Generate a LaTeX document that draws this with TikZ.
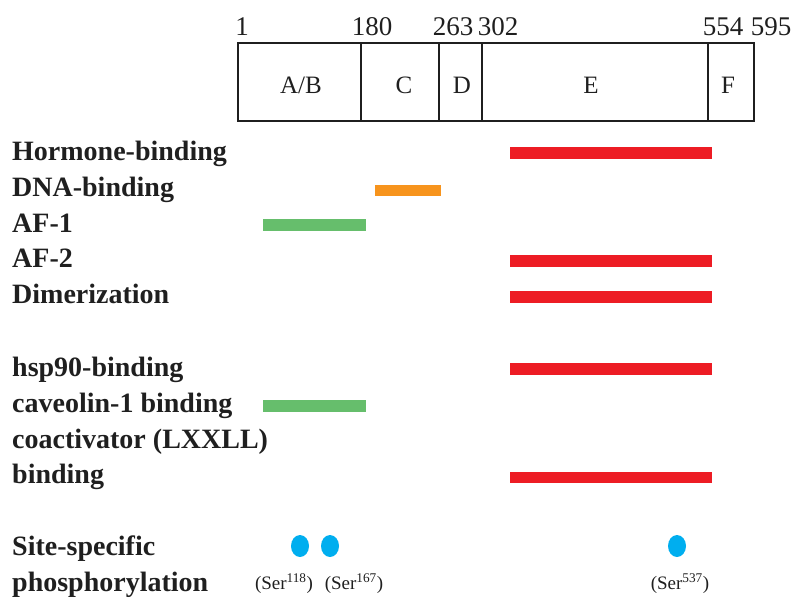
\documentclass[tikz,border=0pt]{standalone}
\usepackage{fontspec}
\usetikzlibrary{shapes.geometric}
\setmainfont{Liberation Serif}
\definecolor{barred}{RGB}{237,28,36}
\definecolor{barorange}{RGB}{247,148,29}
\definecolor{bargreen}{RGB}{102,190,108}
\definecolor{dotblue}{RGB}{0,174,239}
\begin{document}
\begin{tikzpicture}[x=1pt,y=-1pt,
  lbl/.style={anchor=base west,inner sep=0pt,font=\fontsize{28}{30}\selectfont\bfseries,text=black!88},
  num/.style={anchor=base,inner sep=0pt,font=\fontsize{27}{30}\selectfont,text=black!88},
  dom/.style={inner sep=0pt,font=\fontsize{25}{28}\selectfont,text=black!88},
  ser/.style={anchor=base,inner sep=0pt,font=\fontsize{19}{21}\selectfont,text=black!88},
  bar/.style={line width=11.5pt},
  box/.style={draw=black!88,line width=2.8pt},
  dot/.style={fill=dotblue,draw=none,ellipse,minimum width=18pt,minimum height=22pt,inner sep=0pt}]
\useasboundingbox (0,0) rectangle (800,606);
% domain box
\draw[box] (238,43) rectangle (754,121);
\draw[box] (361,43) -- (361,121);
\draw[box] (439,43) -- (439,121);
\draw[box] (482,43) -- (482,121);
\draw[box] (708,43) -- (708,121);
\node[num] (n1) at (242,35) {1};
\node[num] (n180) at (372,35) {180};
\node[num] (n263) at (453,35) {263};
\node[num] (n302) at (498,35) {302};
\node[num] (n554) at (723,35) {554};
\node[num] (n595) at (771,35) {595};
\node[dom,anchor=base] (ab) at (301,93) {A/B};
\node[dom,anchor=base] (c) at (404,93) {C};
\node[dom,anchor=base] (d) at (462,93) {D};
\node[dom,anchor=base] (e) at (591,93) {E};
\node[dom,anchor=base] (f) at (728,93) {F};
% labels
\node[lbl] (l1) at (12,160) {Hormone-binding};
\node[lbl] (l2) at (12,196) {DNA-binding};
\node[lbl] (l3) at (12,232) {AF-1};
\node[lbl] (l4) at (12,267) {AF-2};
\node[lbl] (l5) at (12,303) {Dimerization};
\node[lbl] (l6) at (12,376) {hsp90-binding};
\node[lbl] (l7) at (12,412) {caveolin-1 binding};
\node[lbl] (l8) at (12,448) {coactivator (LXXLL)};
\node[lbl] (l9) at (12,483) {binding};
\node[lbl] (l10) at (12,555) {Site-specific};
\node[lbl] (l11) at (12,591) {phosphorylation};
% bars
\draw[bar,barred] (510,153) -- (712,153);
\draw[bar,barorange] (375,190.5) -- (441,190.5);
\draw[bar,bargreen] (263,225) -- (366,225);
\draw[bar,barred] (510,261) -- (712,261);
\draw[bar,barred] (510,297) -- (712,297);
\draw[bar,barred] (510,369) -- (712,369);
\draw[bar,bargreen] (263,406) -- (366,406);
\draw[bar,barred] (510,477.5) -- (712,477.5);
% phosphorylation sites
\node[dot] (p1) at (300,546) {};
\node[dot] (p2) at (330,546) {};
\node[dot] (p3) at (677,546) {};
\node[ser] (s1) at (284,589) {(Ser\textsuperscript{118})};
\node[ser] (s2) at (354,589) {(Ser\textsuperscript{167})};
\node[ser] (s3) at (680,589) {(Ser\textsuperscript{537})};
\end{tikzpicture}
\end{document}
